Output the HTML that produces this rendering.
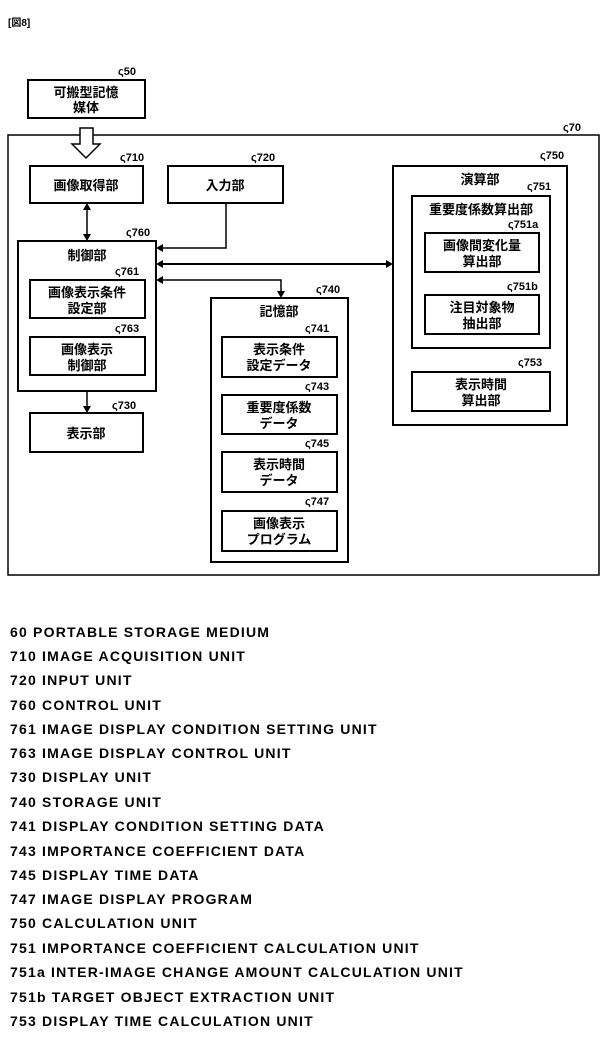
<!DOCTYPE html>
<html><head><meta charset="utf-8"><style>
body{margin:0;background:#fff;width:601px;height:1040px;overflow:hidden;font-family:"Liberation Sans","Noto Sans CJK JP",sans-serif}
svg{position:absolute;left:0;top:0}
.leg{position:absolute;left:10px;font-weight:bold;font-size:14px;letter-spacing:1.2px;color:#000;white-space:nowrap;line-height:16px}
</style></head><body>
<svg width="601" height="600" viewBox="0 0 601 600" font-family="Liberation Sans, Noto Sans CJK JP, sans-serif" font-weight="bold">
<g fill="none" stroke="#000" stroke-width="2">
<rect x="8" y="135" width="591" height="440" stroke-width="1.5"/>
<rect x="28" y="80" width="117" height="38"/>
<rect x="30" y="166" width="113" height="37"/>
<rect x="168" y="166" width="115" height="37"/>
<rect x="18" y="241" width="138" height="150"/>
<rect x="30" y="280" width="115" height="38"/>
<rect x="30" y="337" width="115" height="38"/>
<rect x="30" y="413" width="113" height="39"/>
<rect x="211" y="298" width="137" height="264"/>
<rect x="222" y="337" width="115" height="40"/>
<rect x="222" y="395" width="115" height="39"/>
<rect x="222" y="452" width="115" height="40"/>
<rect x="222" y="511" width="115" height="40"/>
<rect x="393" y="166" width="174" height="259"/>
<rect x="412" y="196" width="138" height="152"/>
<rect x="425" y="233" width="114" height="39"/>
<rect x="425" y="295" width="114" height="39"/>
<rect x="412" y="372" width="138" height="39"/>
</g>
<path d="M80 128 H93 V144 H100 L86 158 L72 144 H80 Z" fill="#fff" stroke="#000" stroke-width="1.5"/>
<g stroke="#000" stroke-width="1.5" fill="none">
<line x1="87" y1="209" x2="87" y2="235"/>
<polyline points="226,203 226,248 162,248"/>
<line x1="162" y1="264" x2="387" y2="264" stroke-width="2"/>
<polyline points="162,280 281,280 281,292"/>
<line x1="87" y1="391" x2="87" y2="407"/>
</g>
<g fill="#000">
<polygon points="87,203 83,210 91,210"/><polygon points="87,241 83,234 91,234"/>
<polygon points="156,248 163,244 163,252"/>
<polygon points="156,264 163,260 163,268"/><polygon points="393,264 386,260 386,268"/>
<polygon points="156,280 163,276 163,284"/>
<polygon points="281,298 277,291 285,291"/>
<polygon points="87,413 83,406 91,406"/>
</g>
<g font-size="13" text-anchor="middle" fill="#000">
<text x="86" y="97">可搬型記憶</text><text x="86" y="112">媒体</text>
<text x="86" y="190">画像取得部</text>
<text x="225" y="190">入力部</text>
<text x="87" y="260">制御部</text>
<text x="87" y="297">画像表示条件</text><text x="87" y="313">設定部</text>
<text x="87" y="354">画像表示</text><text x="87" y="370">制御部</text>
<text x="86" y="438">表示部</text>
<text x="279" y="316">記憶部</text>
<text x="279" y="354">表示条件</text><text x="279" y="370">設定データ</text>
<text x="279" y="412">重要度係数</text><text x="279" y="428">データ</text>
<text x="279" y="469">表示時間</text><text x="279" y="485">データ</text>
<text x="279" y="528">画像表示</text><text x="279" y="544">プログラム</text>
<text x="480" y="184">演算部</text>
<text x="481" y="214">重要度係数算出部</text>
<text x="482" y="250">画像間変化量</text><text x="482" y="266">算出部</text>
<text x="482" y="312">注目対象物</text><text x="482" y="328">抽出部</text>
<text x="481" y="389">表示時間</text><text x="481" y="405">算出部</text>
</g>
<g font-size="11" fill="#000">
<text x="8" y="26" font-size="10">[図8]</text>
<text x="118" y="75">ς50</text>
<text x="563" y="131">ς70</text>
<text x="120" y="161">ς710</text>
<text x="251" y="161">ς720</text>
<text x="126" y="236">ς760</text>
<text x="115" y="275">ς761</text>
<text x="115" y="332">ς763</text>
<text x="112" y="409">ς730</text>
<text x="316" y="293">ς740</text>
<text x="305" y="332">ς741</text>
<text x="305" y="390">ς743</text>
<text x="305" y="447">ς745</text>
<text x="305" y="505">ς747</text>
<text x="540" y="159">ς750</text>
<text x="527" y="190">ς751</text>
<text x="508" y="228">ς751a</text>
<text x="507" y="290">ς751b</text>
<text x="518" y="366">ς753</text>
</g>
</svg>
<div class="leg" style="top:624px">60 PORTABLE STORAGE MEDIUM</div>
<div class="leg" style="top:648px">710 IMAGE ACQUISITION UNIT</div>
<div class="leg" style="top:672px">720 INPUT UNIT</div>
<div class="leg" style="top:697px">760 CONTROL UNIT</div>
<div class="leg" style="top:721px">761 IMAGE DISPLAY CONDITION SETTING UNIT</div>
<div class="leg" style="top:745px">763 IMAGE DISPLAY CONTROL UNIT</div>
<div class="leg" style="top:769px">730 DISPLAY UNIT</div>
<div class="leg" style="top:794px">740 STORAGE UNIT</div>
<div class="leg" style="top:818px">741 DISPLAY CONDITION SETTING DATA</div>
<div class="leg" style="top:843px">743 IMPORTANCE COEFFICIENT DATA</div>
<div class="leg" style="top:867px">745 DISPLAY TIME DATA</div>
<div class="leg" style="top:891px">747 IMAGE DISPLAY PROGRAM</div>
<div class="leg" style="top:915px">750 CALCULATION UNIT</div>
<div class="leg" style="top:940px">751 IMPORTANCE COEFFICIENT CALCULATION UNIT</div>
<div class="leg" style="top:964px">751a INTER-IMAGE CHANGE AMOUNT CALCULATION UNIT</div>
<div class="leg" style="top:989px">751b TARGET OBJECT EXTRACTION UNIT</div>
<div class="leg" style="top:1013px">753 DISPLAY TIME CALCULATION UNIT</div>
</body></html>
